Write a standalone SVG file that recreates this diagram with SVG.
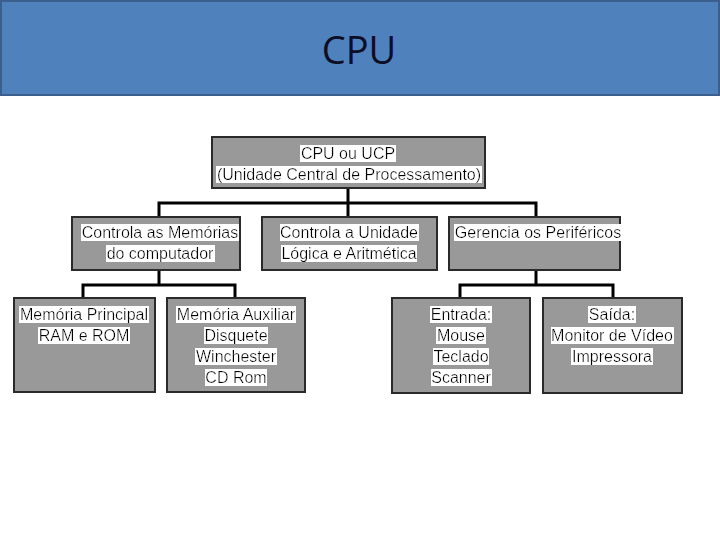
<svg xmlns="http://www.w3.org/2000/svg" width="720" height="540" viewBox="0 0 720 540">
<style>
.box{fill:#999999;stroke:#2a2a2a;stroke-width:2}
.t{font-family:"Liberation Sans",Arial,sans-serif;font-size:16px;fill:#000;text-anchor:middle}
.ln{fill:none;stroke:#000;stroke-width:3;stroke-linejoin:miter}
</style>
<defs>
<filter id="hl" x="0" y="0" width="1" height="1">
<feFlood flood-color="#ffffff"/>
<feMerge><feMergeNode/><feMergeNode in="SourceGraphic"/></feMerge>
</filter>
</defs>
<rect width="720" height="540" fill="#ffffff"/>
<g id="header">
<rect x="1" y="1" width="718" height="94" fill="#4F81BD" stroke="#3A5F8D" stroke-width="2"/>
<text x="359" y="64" font-family="Open Sans, sans-serif" font-size="38" fill="#0d0d26" text-anchor="middle">CPU</text>
</g>
<g id="connectors">
<path class="ln" d="M348 189V203M159 217V203H536V217M348 203V217"/>
<path class="ln" d="M159 270V285M83 298V285H235V298"/>
<path class="ln" d="M536 270V285M460 298V285H613V298"/>
</g>
<g id="n-cpu">
<rect class="box" x="212" y="137" width="273" height="51"/>
<text class="t" x="348" y="159" filter="url(#hl)">CPU ou UCP</text>
<text class="t" x="349" y="180" filter="url(#hl)">(Unidade Central de Processamento)</text>
</g>
<g id="n-mem">
<rect class="box" x="72" y="217" width="168" height="53"/>
<text class="t" x="160" y="238" filter="url(#hl)">Controla as Memórias</text>
<text class="t" x="160" y="259" filter="url(#hl)">do computador</text>
</g>
<g id="n-ula">
<rect class="box" x="262" y="217" width="175" height="53"/>
<text class="t" x="349" y="238" filter="url(#hl)">Controla a Unidade</text>
<text class="t" x="349" y="259" filter="url(#hl)">Lógica e Aritmética</text>
</g>
<g id="n-perif">
<rect class="box" x="449" y="217" width="171" height="53"/>
<text class="t" x="538" y="238" filter="url(#hl)">Gerencia os Periféricos</text>
</g>
<g id="n-principal">
<rect class="box" x="14" y="298" width="141" height="94"/>
<text class="t" x="84" y="320" filter="url(#hl)">Memória Principal</text>
<text class="t" x="84" y="341" filter="url(#hl)">RAM e ROM</text>
</g>
<g id="n-auxiliar">
<rect class="box" x="167" y="298" width="138" height="94"/>
<text class="t" x="236" y="320" filter="url(#hl)">Memória Auxiliar</text>
<text class="t" x="236" y="341" filter="url(#hl)">Disquete</text>
<text class="t" x="236" y="362" filter="url(#hl)">Winchester</text>
<text class="t" x="236" y="383" filter="url(#hl)">CD Rom</text>
</g>
<g id="n-entrada">
<rect class="box" x="392" y="298" width="138" height="95"/>
<text class="t" x="461" y="320" filter="url(#hl)">Entrada:</text>
<text class="t" x="461" y="341" filter="url(#hl)">Mouse</text>
<text class="t" x="461" y="362" filter="url(#hl)">Teclado</text>
<text class="t" x="461" y="383" filter="url(#hl)">Scanner</text>
</g>
<g id="n-saida">
<rect class="box" x="543" y="298" width="139" height="95"/>
<text class="t" x="612" y="320" filter="url(#hl)">Saída:</text>
<text class="t" x="612" y="341" filter="url(#hl)">Monitor de Vídeo</text>
<text class="t" x="612" y="362" filter="url(#hl)">Impressora</text>
</g>
</svg>
